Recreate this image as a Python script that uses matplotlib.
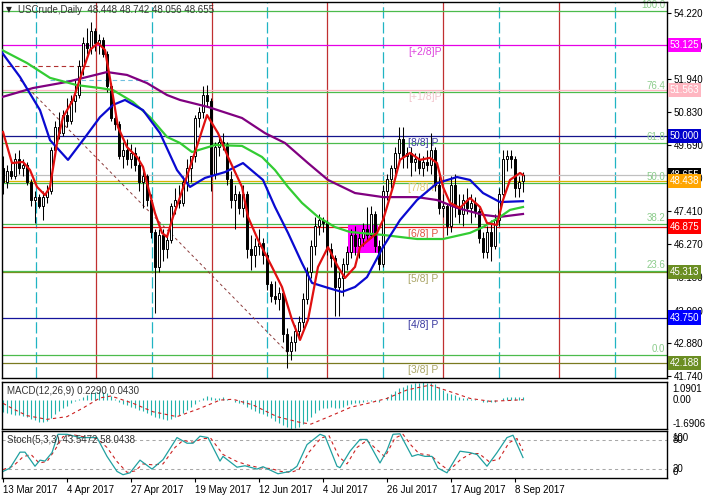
import matplotlib
matplotlib.use("Agg")
import matplotlib.pyplot as plt
from matplotlib.patches import Rectangle
from matplotlib.transforms import blended_transform_factory as btf

plt.rcParams['font.family'] = ['Liberation Sans', 'DejaVu Sans']

# ---------------- data ----------------
opens = [48.9,48.4,48.8,48.6,49.2,48.9,49.0,48.4,47.8,47.9,47.6,47.9,48.1,49.5,50.3,50.1,50.7,50.5,51.2,51.4,
         52.4,53.2,53.0,53.6,53.2,53.3,52.8,51.7,50.6,50.4,49.3,49.5,49.2,49.4,49.0,48.4,48.6,47.8,46.7,45.5,
         46.6,46.1,46.4,47.6,47.8,47.7,48.4,48.9,49.3,50.6,50.8,51.4,51.2,48.7,49.6,49.8,49.7,48.5,47.8,48.0,
         47.5,48.0,46.1,45.9,46.2,46.3,45.9,44.9,44.5,44.4,44.6,43.2,42.6,42.9,43.3,43.6,44.4,45.3,46.2,46.9,
         47.1,47.0,46.1,45.8,44.8,45.1,45.6,46.0,46.6,46.2,46.5,46.8,46.6,47.3,46.2,45.6,48.1,48.5,48.9,49.4,
         49.9,49.3,49.4,49.1,49.2,48.9,49.1,49.0,49.5,48.3,47.5,47.6,46.9,48.3,47.6,47.3,47.8,47.5,47.7,47.4,
         46.5,46.0,46.7,46.2,47.1,48.0,49.2,49.3,49.2,48.2,48.448]
highs = [49.3,49.0,49.1,49.4,49.5,49.2,49.1,48.5,48.1,48.0,48.1,48.3,49.6,50.5,50.8,50.9,51.3,51.4,51.9,52.6,
         53.4,53.7,53.9,53.7,53.5,53.4,52.9,51.8,50.9,50.5,49.8,49.9,49.7,49.6,49.3,48.9,48.7,48.0,46.8,46.8,
         46.8,46.6,47.7,48.2,48.3,48.6,49.2,49.3,50.7,51.0,51.7,51.75,51.3,49.8,50.0,50.1,49.8,48.8,48.3,48.1,
         48.3,48.1,46.6,46.5,46.8,46.5,46.0,45.0,45.0,44.8,44.7,43.4,43.1,43.5,43.8,44.6,45.5,46.4,47.2,47.3,
         47.2,47.1,46.3,45.9,45.3,45.8,46.2,46.8,46.9,46.7,47.0,47.55,47.6,47.4,46.4,48.3,48.7,49.0,49.6,50.3,
         50.3,49.6,49.6,49.4,49.4,49.3,49.5,50.1,49.6,48.6,48.0,47.7,48.6,48.7,48.0,48.0,48.2,48.0,47.9,47.5,
         46.7,46.9,47.1,47.3,48.2,49.5,49.5,49.5,49.3,48.6,48.742]
lows = [48.0,48.2,48.5,48.5,48.7,48.6,48.3,47.6,47.0,47.5,47.1,47.7,48.0,49.3,49.9,50.0,50.3,50.4,50.8,51.3,
        52.1,52.8,52.8,52.9,52.8,52.7,51.5,50.5,50.2,49.2,48.9,49.0,48.9,48.8,48.1,47.5,47.6,46.5,43.9,45.3,
        45.7,45.8,46.3,47.3,47.5,47.6,48.1,48.4,49.1,50.3,50.6,51.0,48.1,48.5,49.3,49.5,48.3,47.5,46.8,47.3,
        47.2,45.8,45.4,45.5,45.9,45.6,44.7,44.3,44.2,44.0,42.9,42.0,42.3,42.6,43.0,43.4,44.2,45.1,45.9,46.6,
        46.7,45.9,45.5,43.8,43.8,44.5,45.4,45.8,45.9,45.8,46.2,46.4,46.5,46.0,45.4,45.5,47.8,48.2,48.7,49.1,
        48.9,48.9,48.6,48.8,48.7,48.6,48.8,48.7,48.1,47.3,47.2,46.6,46.7,47.2,47.0,46.9,47.3,47.0,47.2,46.3,
        45.8,45.8,45.7,46.1,46.9,47.9,48.8,48.9,47.9,47.9,48.056]
closes = [48.4,48.8,48.6,49.2,48.9,49.0,48.4,47.8,47.9,47.6,47.9,48.1,49.5,50.3,50.1,50.7,50.5,51.2,51.4,52.4,
          53.2,53.0,53.6,53.2,53.3,52.8,51.7,50.6,50.4,49.3,49.5,49.2,49.4,49.0,48.4,48.6,47.8,46.7,45.5,46.6,
          46.1,46.4,47.6,47.8,47.7,48.4,48.9,49.3,50.6,50.8,51.4,51.2,48.7,49.6,49.8,49.7,48.5,47.8,48.0,47.5,
          48.0,46.1,45.9,46.2,46.3,45.9,44.9,44.5,44.4,44.6,43.2,42.6,42.9,43.3,43.6,44.4,45.3,46.2,46.9,47.1,
          47.0,46.1,45.8,44.8,45.1,45.6,46.0,46.6,46.2,46.5,46.8,46.6,47.3,46.2,45.6,48.1,48.5,48.9,49.4,49.9,
          49.3,49.4,49.1,49.2,48.9,49.1,49.0,49.5,48.3,47.5,47.6,46.9,48.3,47.6,47.3,47.8,47.5,47.7,47.4,46.5,
          46.0,46.7,46.2,47.1,48.0,49.2,49.3,49.2,48.2,48.4,48.655]

date_pos = [0, 16, 32, 48, 64, 80, 96, 112, 128]
date_labels = ['13 Mar 2017', '4 Apr 2017', '27 Apr 2017', '19 May 2017', '12 Jun 2017',
               '4 Jul 2017', '26 Jul 2017', '17 Aug 2017', '8 Sep 2017']

red_i = [0,2.25,5,6.75,8.5,10.5,11.75,13.5,15,17.5,19.75,21.75,23.75,25.5,27.25,28.75,31,33.5,35,36.25,38,
         39.75,41,42.5,44.25,46.25,48.75,51,53.75,56.25,59.75,61.25,63.75,67.25,69.75,72.25,74.25,76.25,78.75,
         81.25,83.75,85.5,88,89.25,93.5,95,97.5,99.25,101.75,104.25,106.75,108.5,110,111.75,114.25,116.75,
         119.25,121,123.5,125,126.75,129.25,130]
red_p = [50.13,49.06,49.10,48.82,48.24,47.96,48.24,49.75,50.64,51.23,52.16,52.95,53.19,52.95,51.57,50.30,49.61,
         49.27,48.93,48.24,47.34,46.66,46.52,47.21,47.89,48.72,49.75,50.71,50.09,49.27,48.24,47.21,46.42,45.49,
         44.80,43.67,42.98,43.67,45.49,46.17,45.49,45.11,45.49,46.17,46.66,47.10,48.24,49.17,49.41,49.17,49.24,
         49.06,48.24,47.69,47.52,47.86,47.55,47.00,46.93,47.79,48.48,48.72,48.65]
blue_i = [-1,4.25,9.25,11.75,16.25,20,24.25,27.5,30.5,35,39.25,43.5,46.75,50.5,55.5,60,65,68,71.25,74.75,77.25,
          81.25,84.75,88,91,95,99.25,103.5,108.5,113.5,116.75,120,124.25,130]
blue_p = [53.0,52.02,50.88,49.85,49.17,49.85,50.64,51.06,51.23,50.88,50.09,48.82,48.24,48.55,48.75,49.06,48.48,
          47.55,46.66,45.62,44.94,44.77,44.63,44.80,45.14,46.17,47.10,47.79,48.37,48.58,48.48,48.03,47.72,47.75]
green_i = [-1,6,11.75,18.5,24.25,27.5,32.5,36.75,41,44.25,47.25,53,59.75,64.75,68,71.25,74.75,78.75,83,86.75,
           95,103.5,110,116.75,120,124.25,126.75,130]
green_p = [53.0,52.50,51.99,51.74,51.64,51.57,51.16,50.64,49.96,49.75,49.44,49.68,49.65,49.27,48.82,48.24,47.69,
           47.21,46.86,46.69,46.59,46.45,46.45,46.66,46.86,47.21,47.45,47.55]
purple_i = [-1,7.5,16,21,26,31,36,41,44.25,51.25,59.75,65.5,70.5,76.25,81.25,88,95,103.5,108.5,113.5,120,124.25,130]
purple_p = [51.30,51.64,51.85,52.02,52.19,52.09,51.81,51.40,51.23,50.99,50.61,50.09,49.75,49.06,48.48,48.03,47.89,
            47.89,47.79,47.52,47.28,47.21,47.31]

fib_levels = ['100.0', '76.4', '61.8', '50.0', '38.2', '23.6', '0.0']
fib_prices = [54.29, 51.50, 49.75, 48.37, 46.98, 45.36, 42.46]

murray_prices = [53.125, 51.563, 50.000, 48.438, 46.875, 45.313, 43.750, 42.188]
murray_labels = ['[+2/8]P', '[+1/8]P', '[8/8] P', '[7/8] P', '[6/8] P', '[5/8] P', '[4/8] P', '[3/8] P']
murray_line_colors = ['#e600e6', '#ffb6c1', '#14148c', '#d9b300', '#e01010', '#7a8c1e', '#14149c', '#7a7a20']
murray_text_colors = ['#dd44dd', '#f2c4cc', '#3a3aa0', '#e3c878', '#e05545', '#aaa566', '#3a3aa0', '#aaa566']
murray_box_colors = ['#ff00ff', '#ffb6c1', '#0000cc', '#ffa500', '#ff0000', '#6b8e23', '#0000ff', '#6b8e23']

current_price = 48.655
price_ticks = [54.220, 53.080, 51.940, 50.830, 49.690, 48.550, 47.410, 46.270, 45.130, 43.990, 42.880, 41.740]

red_vlines = [23.25, 52.25, 81, 110, 139]
cyan_vlines = [8.25, 37.25, 66, 95, 124, 153]

diag_i = [4.25, 71.75]
diag_p = [51.92, 42.46]
hdash1_i = [-1, 22]
hdash1_p = [52.40, 52.40]
hdash2_i = [11.75, 36.75]
hdash2_p = [51.92, 51.92]
box_i = [86.25, 93.75]
box_p = [45.97, 46.93]

macd_hist = [-0.70,-0.75,-0.80,-0.85,-0.88,-0.92,-0.97,-1.10,-1.18,-1.25,
             -1.28,-1.22,-1.02,-0.82,-0.62,-0.46,-0.32,-0.18,-0.06,0.08,
             0.22,0.34,0.45,0.52,0.55,0.52,0.42,0.24,0.08,-0.08,
             -0.20,-0.30,-0.38,-0.45,-0.54,-0.62,-0.72,-0.86,-0.98,-1.06,
             -1.12,-1.14,-1.08,-0.98,-0.86,-0.72,-0.56,-0.40,-0.22,-0.05,
             0.12,0.25,0.20,0.14,0.17,0.18,0.10,0.00,-0.08,-0.16,
             -0.22,-0.36,-0.52,-0.64,-0.72,-0.80,-0.92,-1.06,-1.20,-1.32,
             -1.45,-1.60,-1.69,-1.66,-1.55,-1.40,-1.20,-0.98,-0.76,-0.58,
             -0.46,-0.42,-0.40,-0.44,-0.42,-0.36,-0.28,-0.20,-0.17,-0.13,
             -0.10,-0.06,-0.02,-0.06,-0.12,0.05,0.22,0.40,0.56,0.72,
             0.82,0.90,0.96,1.01,1.05,1.09,1.06,1.04,0.95,0.78,
             0.60,0.44,0.38,0.30,0.22,0.17,0.14,0.11,0.08,0.00,
             -0.08,-0.10,-0.12,-0.07,0.02,0.12,0.18,0.22,0.20,0.20,
             0.229]
macd_sig_i = [0,2.5,6,11,16,20,24.25,27,32.5,37.5,43.5,49.25,54.25,57.5,62.5,68.5,74.25,77,82.5,87,91.75,96,
              101,106.75,111.75,116.75,121.75,126.75,130]
macd_sig_v = [-0.17,-0.50,-0.90,-1.12,-0.96,-0.45,0.15,0.26,-0.17,-0.67,-0.96,-0.47,0.02,0.07,-0.27,-0.96,-1.30,
              -1.40,-0.86,-0.40,-0.14,0.12,0.62,0.91,0.52,0.12,-0.05,0.00,0.043]
macd_max, macd_min = 1.0901, -1.6906

stoch_i = [0,1.75,4.25,5.5,8,9.25,10.5,12.25,13.75,16,19.25,23.5,26,28.5,30,31.75,34.25,37.25,40,43.5,46,47.5,
           49.25,51.25,54.25,55,58.5,60.5,63.5,65,66.75,68.75,71.75,73.5,76,79.25,80.5,83.5,84.25,86.75,89.25,91,
           94.25,96,97.5,99.25,102.25,103.75,105.5,107.25,108.75,111,114.25,116.75,118.5,121,123.5,126,127.5,130]
stoch_main = [14,21,55,55,25,38,36,54,93,93,86,86,46,14,7,11,38,19,39,86,74,74,89,86,36,46,23,26,19,24,17,9,14,
              25,71,93,89,25,22,57,82,82,32,59,93,94,46,50,46,46,21,11,57,54,50,25,54,86,91,43.5472]
stsig_i = [0,2.5,5,7,9,11,13,15,17.5,20,23.5,26,28.5,31,33,35,37.5,40,43,45,47.5,50,52,55,58.5,61,64,67,69.5,72,
           74,76.5,79.5,81.5,84,86,88.5,91,93.5,95.5,98,100,102,104,107,109.5,111.5,114.5,117,119,121.5,124,
           126.5,128.5,130]
stsig_v = [18,25,45,50,32,35,60,88,92,88,84,65,35,12,15,30,28,30,65,80,76,84,84,50,35,28,22,20,14,12,18,55,85,90,
           45,30,65,80,60,45,85,93,70,52,48,28,16,40,52,52,35,40,75,84,58.0438]

# ---------------- figure ----------------
W, H = 706, 499
fig = plt.figure(figsize=(W / 100, H / 100), dpi=100)
fig.patch.set_facecolor('white')
ax = fig.add_axes([2 / W, 1 - 378 / H, 665 / W, 376 / H])
axm = fig.add_axes([2 / W, 1 - 429 / H, 665 / W, 47 / H])
axs = fig.add_axes([2 / W, 1 - 478 / H, 665 / W, 47 / H])

XL = (-0.25, 166)
for a in (ax, axm, axs):
    a.set_xlim(*XL)
    for sp in a.spines.values():
        sp.set_linewidth(1.0)
        sp.set_color('black')
    a.set_facecolor('white')

FS = 7
ax.set_ylim(41.671, 54.598)

# vertical cycle lines
for v in red_vlines:
    ax.axvline(v, color='#c03030', lw=0.9, zorder=1)
for v in cyan_vlines:
    ax.axvline(v, color='#20b4c4', lw=0.9, ls=(0, (9, 3)), zorder=1)

# horizontal levels
for p, col in zip(murray_prices, murray_line_colors):
    ax.axhline(p, color=col, lw=0.9, zorder=1.2)
for p in fib_prices:
    ax.axhline(p, color='#4cbb4c', lw=0.9, zorder=1.3)
ax.axhline(current_price, color='#c0c0c0', lw=0.9, zorder=1.1)

for lab, p in zip(fib_levels, fib_prices):
    ax.annotate(lab, (165.5, p), xytext=(0, 1), textcoords='offset pixels', ha='right', va='bottom',
                color='#8ccc8c', fontsize=FS, zorder=1.5)
for lab, p, col in zip(murray_labels, murray_prices, murray_text_colors):
    ax.annotate(lab, (101.25, p), xytext=(0, -2), textcoords='offset pixels', ha='left', va='top',
                color=col, fontsize=7.5, zorder=1.5)

# fib drawing dashed lines
ax.plot(diag_i, diag_p, color='#8b3a3a', lw=0.7, ls=(0, (3, 3)), zorder=1.6)
ax.plot(hdash1_i, hdash1_p, color='#b03030', lw=0.8, ls=(0, (4, 3)), zorder=1.6)
ax.plot(hdash2_i, hdash2_p, color='#70c0e0', lw=0.8, ls=(0, (4, 3)), zorder=1.6)

ax.add_patch(Rectangle((box_i[0], box_p[0]), box_i[1] - box_i[0], box_p[1] - box_p[0],
                       fc='#ff00ff', ec='none', zorder=2))

# candles
for i, (o, h, l, c) in enumerate(zip(opens, highs, lows, closes)):
    ax.plot([i, i], [l, h], color='black', lw=0.75, zorder=3, solid_capstyle='butt')
    lo, hi = min(o, c), max(o, c)
    ax.add_patch(Rectangle((i - 0.32, lo), 0.64, max(hi - lo, 0.02),
                           fc='black' if c < o else 'white', ec='black', lw=0.7, zorder=3.2))

# moving averages
ax.plot(purple_i, purple_p, color='#800080', lw=1.6, zorder=4)
ax.plot(green_i, green_p, color='#33cc33', lw=1.6, zorder=4.1)
ax.plot(blue_i, blue_p, color='#0a0ad0', lw=1.6, zorder=4.2)
ax.plot(red_i, red_p, color='#e01010', lw=1.6, zorder=4.3)

# right price axis
ax.yaxis.tick_right()
ax.set_yticks(price_ticks)
ax.set_yticklabels([f"{v:.3f}" for v in price_ticks])
ax.tick_params(axis='y', direction='out', length=3, width=0.8, pad=2, labelsize=FS)
ax.set_xticks([])
tr = btf(ax.transAxes, ax.transData)
ax.text(1.004, current_price, f"{current_price:.3f}", transform=tr, ha='left', va='center', color='white',
        fontsize=FS, bbox=dict(boxstyle='square,pad=0.22', fc='black', ec='none'), clip_on=False, zorder=9)
for p, col in zip(murray_prices, murray_box_colors):
    ax.text(1.004, p, f"{p:.3f}", transform=tr, ha='left', va='center', color='white', fontsize=FS,
            bbox=dict(boxstyle='square,pad=0.22', fc=col, ec='none'), clip_on=False, zorder=10)

fig.text(6 / W, 1 - 10 / H, '\u25bc', fontsize=5.5, color='#222222', va='center', ha='left',
         family=['DejaVu Sans'])
fig.text(18 / W, 1 - 10 / H, 'USCrude,Daily  48.448 48.742 48.056 48.655', fontsize=FS,
         color='#333333', va='center', ha='left')

# MACD panel
axm.set_ylim(macd_min, macd_max)
axm.vlines(range(len(macd_hist)), 0, macd_hist, color='#20b2aa', lw=0.8)
axm.plot(macd_sig_i, macd_sig_v, color='#cc2222', lw=0.8, ls=(0, (3, 3)))
axm.set_xticks([])
axm.set_yticks([])
trm = btf(axm.transAxes, axm.transData)
for txt, yf in [('1.0901', 0.85), ('-1.6906', 0.11)]:
    axm.text(1.008, yf, txt, transform=axm.transAxes, ha='left', va='center', fontsize=FS, clip_on=False)
axm.text(1.008, 0.0, '0.00', transform=trm, ha='left', va='center', fontsize=FS, clip_on=False)
axm.text(0.007, 0.80, 'MACD(12,26,9) 0.2290 0.0430', transform=axm.transAxes, ha='left', va='center',
         fontsize=FS, color='#333333')

# Stochastic panel
axs.set_ylim(0, 100)
for lv in (80, 20):
    axs.axhline(lv, color='#a8a8a8', lw=0.75, ls=(0, (3, 3)))
axs.plot(stsig_i, stsig_v, color='#cc2222', lw=0.8, ls=(0, (3, 3)))
axs.plot(stoch_i, stoch_main, color='#20a0a0', lw=0.9)
axs.set_yticks([])
for txt, yf in [('100', 0.86), ('80', 0.80), ('20', 0.20), ('0', 0.13)]:
    axs.text(1.008, yf, txt, transform=axs.transAxes, ha='left', va='center', fontsize=FS, clip_on=False)
axs.text(0.007, 0.80, 'Stoch(5,3,3) 43.5472 58.0438', transform=axs.transAxes, ha='left', va='center',
         fontsize=FS, color='#333333')
axs.set_xticks(date_pos)
axs.set_xticklabels(date_labels)
axs.tick_params(axis='x', direction='out', length=3, width=0.8, pad=2, labelsize=FS)
for t in axs.get_xticklabels():
    t.set_ha('left')

fig.savefig('out.png', dpi=100)
